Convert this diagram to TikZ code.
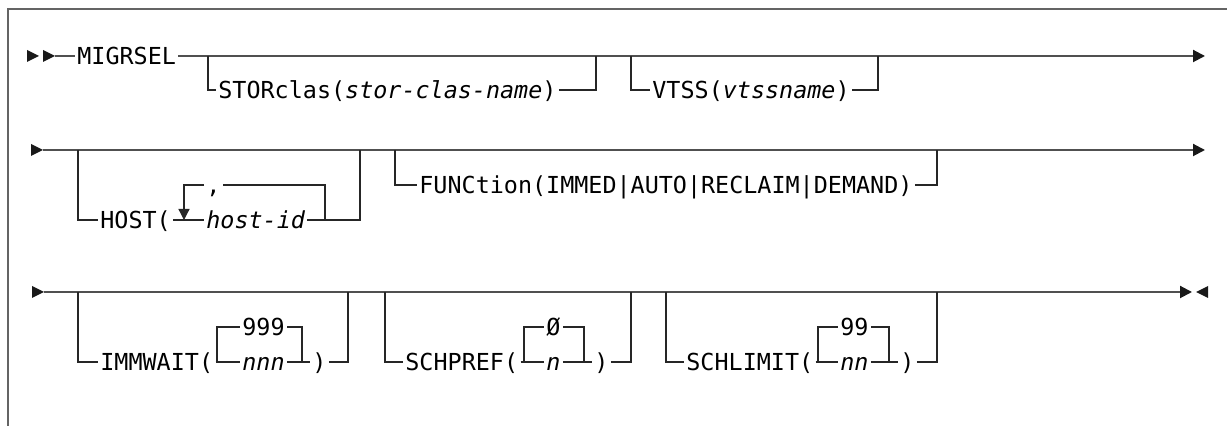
\documentclass[tikz,border=0pt]{standalone}
\usepackage{fontspec}
\setmonofont{DejaVu Sans Mono}
\usepackage{tikz}
\usetikzlibrary{arrows.meta, positioning}
\definecolor{railgray}{RGB}{80,80,80}
\definecolor{framegray}{RGB}{100,100,100}
\tikzset{
  kw/.style={inner xsep=1pt, inner ysep=0pt, text height=8.5pt, text depth=0pt,
    anchor=west, font=\ttfamily\fontsize{11.7}{14}\selectfont},
  var/.style={kw, font=\ttfamily\itshape\fontsize{11.7}{14}\selectfont},
  rail/.style={line width=1pt, color=railgray},
  branch/.style={line width=0.65pt, color=black!85},
  railend/.style={-{Triangle[length=6pt, width=6pt, color=black!90]}},
  loopend/.style={-{Triangle[length=5.5pt, width=5.5pt]}},
  tipfill/.style={fill=black!90}
}

\begin{document}
\begin{tikzpicture}[x=0.5pt, y=-0.5pt]
  \useasboundingbox (0,0) rectangle (1227,426);
  \draw[framegray, line width=1pt] (8,426) -- (8,9) -- (1227,9);

  % first line
  \fill[tipfill] (27,50) -- (39,56) -- (27,62) -- cycle;
  \fill[tipfill] (43,50) -- (55,56) -- (43,62) -- cycle;
  \coordinate (r1s) at (55,56);
  \coordinate (r1e) at (1205,56);
  \node[kw] (migrsel) at (75,56) {MIGRSEL};
  \draw[rail] (r1s) -- (migrsel.west);
  \draw[rail, railend] (migrsel.east) -- (r1e);

  \coordinate (stor-in) at (208,56);
  \coordinate (stor-out) at (596,56);
  \node[kw] (stor) at (216,90) {STORclas({\itshape stor-clas-name})};
  \draw[branch] (stor-in) |- (stor.west);
  \draw[branch] (stor.east) -| (stor-out);

  \coordinate (vtss-in) at (631,56);
  \coordinate (vtss-out) at (878,56);
  \node[kw] (vtss) at (650,90) {VTSS({\itshape vtssname})};
  \draw[branch] (vtss-in) |- (vtss.west);
  \draw[branch] (vtss.east) -| (vtss-out);

  % second line
  \fill[tipfill] (31,144) -- (43,150) -- (31,156) -- cycle;
  \coordinate (r2s) at (43,150);
  \coordinate (r2e) at (1205,150);
  \draw[rail, railend] (r2s) -- (r2e);

  \coordinate (host-in) at (78,150);
  \coordinate (host-out) at (360,150);
  \coordinate (rep-l) at (184,220);
  \coordinate (rep-r) at (325,220);
  \node[kw] (host) at (98,220) {HOST(};
  \node[var] (hostid) at (204,220) {host-id};
  \node[kw] (comma) at (204,185) {,};
  \draw[branch] (host-in) |- (host.west);
  \draw[branch] (host.east) -- (hostid.west);
  \draw[branch] (hostid.east) -| (host-out);
  \draw[branch] (rep-r) |- (comma.east);
  \draw[branch, loopend] (comma.west) -| (rep-l);

  \coordinate (func-in) at (395,150);
  \coordinate (func-out) at (937,150);
  \node[kw] (func) at (417,185) {FUNCtion(IMMED|AUTO|RECLAIM|DEMAND)};
  \draw[branch] (func-in) |- (func.west);
  \draw[branch] (func.east) -| (func-out);

  % third line
  \fill[tipfill] (32,286) -- (44,292) -- (32,298) -- cycle;
  \coordinate (r3s) at (44,292);
  \coordinate (r3e) at (1192,292);
  \draw[rail, railend] (r3s) -- (r3e);
  \fill[tipfill] (1196,292) -- (1208,286) -- (1208,298) -- cycle;

  \coordinate (imm-in) at (78,292);
  \coordinate (imm-out) at (348,292);
  \coordinate (imm-l) at (217,362);
  \coordinate (imm-r) at (302,362);
  \node[kw] (imm) at (98,362) {IMMWAIT(};
  \node[kw] (imm-dflt) at (240,327) {999};
  \node[var] (imm-val) at (240,362) {nnn};
  \node[kw] (imm-close) at (310,362) {)};
  \draw[branch] (imm-in) |- (imm.west);
  \draw[branch] (imm.east) -- (imm-val.west);
  \draw[branch] (imm-val.east) -- (imm-close.west);
  \draw[branch] (imm-close.east) -| (imm-out);
  \draw[branch] (imm-l) |- (imm-dflt.west);
  \draw[branch] (imm-dflt.east) -| (imm-r);

  \coordinate (pref-in) at (385,292);
  \coordinate (pref-out) at (631,292);
  \coordinate (pref-l) at (524,362);
  \coordinate (pref-r) at (584,362);
  \node[kw] (pref) at (403,362) {SCHPREF(};
  \node[kw] (pref-dflt) at (544,327) {Ø};
  \node[var] (pref-val) at (544,362) {n};
  \node[kw] (pref-close) at (592,362) {)};
  \draw[branch] (pref-in) |- (pref.west);
  \draw[branch] (pref.east) -- (pref-val.west);
  \draw[branch] (pref-val.east) -- (pref-close.west);
  \draw[branch] (pref-close.east) -| (pref-out);
  \draw[branch] (pref-l) |- (pref-dflt.west);
  \draw[branch] (pref-dflt.east) -| (pref-r);

  \coordinate (lim-in) at (666,292);
  \coordinate (lim-out) at (937,292);
  \coordinate (lim-l) at (818,362);
  \coordinate (lim-r) at (889,362);
  \node[kw] (lim) at (684,362) {SCHLIMIT(};
  \node[kw] (lim-dflt) at (838,327) {99};
  \node[var] (lim-val) at (838,362) {nn};
  \node[kw] (lim-close) at (898,362) {)};
  \draw[branch] (lim-in) |- (lim.west);
  \draw[branch] (lim.east) -- (lim-val.west);
  \draw[branch] (lim-val.east) -- (lim-close.west);
  \draw[branch] (lim-close.east) -| (lim-out);
  \draw[branch] (lim-l) |- (lim-dflt.west);
  \draw[branch] (lim-dflt.east) -| (lim-r);
\end{tikzpicture}
\end{document}
